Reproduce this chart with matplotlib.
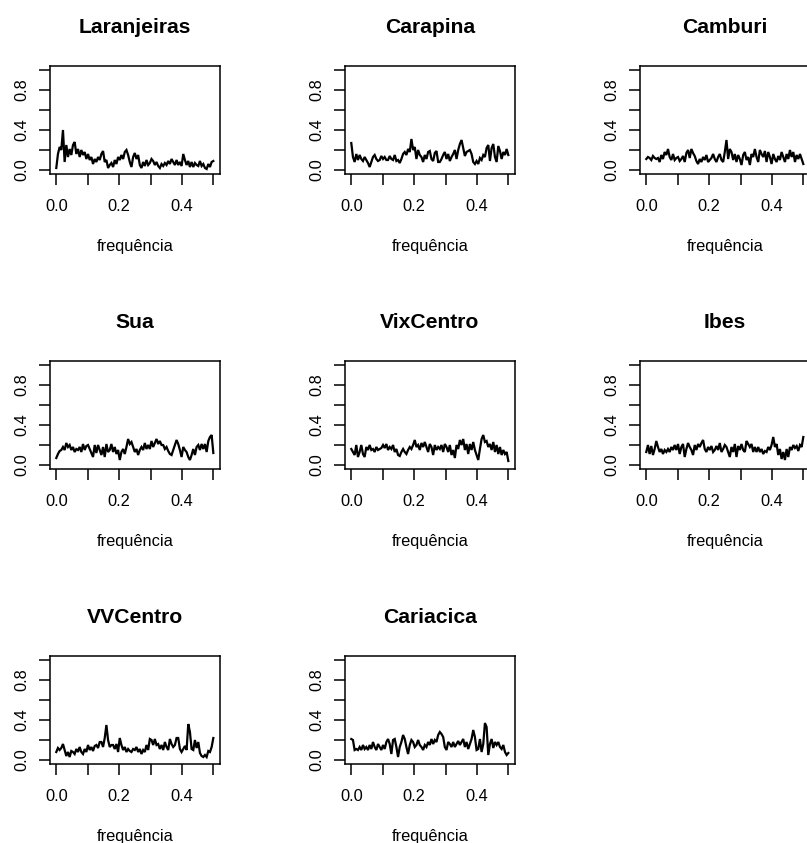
import numpy as np
import matplotlib
matplotlib.use("Agg")
import matplotlib.pyplot as plt

plt.rcParams['font.family'] = ['Liberation Sans', 'DejaVu Sans']

stations = ["Laranjeiras", "Carapina", "Camburi", "Sua", "VixCentro", "Ibes", "VVCentro", "Cariacica"]

laranjeiras = [0.02, 0.16, 0.23, 0.20, 0.40, 0.08, 0.25, 0.13, 0.21, 0.15, 0.25, 0.28, 0.16, 0.21, 0.13, 0.20,
               0.15, 0.18, 0.11, 0.16, 0.10, 0.13, 0.06, 0.11, 0.08, 0.13, 0.10, 0.16, 0.19, 0.08, 0.10, 0.02,
               0.05, 0.07, 0.03, 0.10, 0.06, 0.13, 0.10, 0.15, 0.11, 0.18, 0.20, 0.15, 0.08, 0.03, 0.13, 0.17,
               0.11, 0.15, 0.05, 0.02, 0.08, 0.04, 0.10, 0.05, 0.07, 0.11, 0.09, 0.05, 0.08, 0.04, 0.02, 0.06,
               0.04, 0.07, 0.05, 0.09, 0.06, 0.11, 0.08, 0.05, 0.10, 0.05, 0.08, 0.04, 0.16, 0.10, 0.05, 0.09,
               0.03, 0.08, 0.03, 0.07, 0.05, 0.04, 0.09, 0.04, 0.06, 0.02, 0.01, 0.06, 0.03, 0.08, 0.09]
carapina = [0.27, 0.13, 0.08, 0.16, 0.10, 0.15, 0.11, 0.09, 0.13, 0.10, 0.07, 0.03, 0.08, 0.13, 0.15, 0.11,
            0.09, 0.10, 0.14, 0.11, 0.13, 0.10, 0.10, 0.14, 0.11, 0.10, 0.15, 0.09, 0.10, 0.07, 0.11, 0.16,
            0.18, 0.15, 0.21, 0.18, 0.31, 0.20, 0.23, 0.11, 0.20, 0.15, 0.13, 0.08, 0.15, 0.11, 0.18, 0.19,
            0.11, 0.09, 0.17, 0.19, 0.08, 0.08, 0.11, 0.15, 0.18, 0.11, 0.16, 0.09, 0.13, 0.16, 0.20, 0.11,
            0.20, 0.26, 0.30, 0.22, 0.14, 0.18, 0.19, 0.20, 0.16, 0.08, 0.06, 0.09, 0.06, 0.12, 0.10, 0.15,
            0.13, 0.22, 0.25, 0.09, 0.22, 0.26, 0.13, 0.08, 0.24, 0.19, 0.11, 0.18, 0.15, 0.21, 0.15]
camburi = [0.11, 0.13, 0.12, 0.10, 0.14, 0.12, 0.11, 0.12, 0.08, 0.15, 0.11, 0.18, 0.15, 0.21, 0.13, 0.10,
           0.16, 0.10, 0.12, 0.13, 0.09, 0.11, 0.14, 0.08, 0.17, 0.20, 0.12, 0.21, 0.17, 0.14, 0.09, 0.06,
           0.11, 0.08, 0.13, 0.10, 0.15, 0.08, 0.10, 0.12, 0.16, 0.11, 0.08, 0.13, 0.16, 0.10, 0.08, 0.18,
           0.30, 0.11, 0.21, 0.18, 0.10, 0.16, 0.08, 0.15, 0.11, 0.05, 0.15, 0.18, 0.10, 0.13, 0.05, 0.16,
           0.13, 0.21, 0.13, 0.08, 0.20, 0.16, 0.13, 0.19, 0.08, 0.18, 0.13, 0.06, 0.16, 0.11, 0.08, 0.14,
           0.10, 0.18, 0.13, 0.08, 0.16, 0.11, 0.20, 0.13, 0.18, 0.08, 0.15, 0.11, 0.16, 0.11, 0.06]
sua = [0.07, 0.11, 0.14, 0.15, 0.18, 0.15, 0.22, 0.18, 0.20, 0.15, 0.18, 0.13, 0.16, 0.15, 0.18, 0.13,
       0.21, 0.15, 0.19, 0.20, 0.16, 0.12, 0.08, 0.20, 0.12, 0.20, 0.15, 0.10, 0.18, 0.08, 0.21, 0.13,
       0.15, 0.21, 0.13, 0.18, 0.11, 0.15, 0.05, 0.13, 0.16, 0.11, 0.18, 0.26, 0.21, 0.23, 0.18, 0.13,
       0.16, 0.10, 0.15, 0.18, 0.15, 0.22, 0.16, 0.20, 0.16, 0.24, 0.18, 0.22, 0.26, 0.21, 0.24, 0.20,
       0.20, 0.16, 0.18, 0.14, 0.11, 0.10, 0.15, 0.20, 0.25, 0.21, 0.15, 0.08, 0.18, 0.15, 0.13, 0.08,
       0.05, 0.10, 0.16, 0.10, 0.18, 0.20, 0.15, 0.21, 0.16, 0.21, 0.13, 0.24, 0.28, 0.30, 0.12]
vixcentro = [0.16, 0.13, 0.10, 0.20, 0.08, 0.13, 0.20, 0.11, 0.08, 0.18, 0.15, 0.20, 0.15, 0.16, 0.13, 0.18,
             0.15, 0.16, 0.17, 0.20, 0.17, 0.21, 0.15, 0.18, 0.16, 0.20, 0.13, 0.16, 0.10, 0.09, 0.13, 0.16,
             0.13, 0.11, 0.15, 0.18, 0.16, 0.20, 0.25, 0.18, 0.20, 0.15, 0.22, 0.18, 0.23, 0.18, 0.13, 0.21,
             0.18, 0.10, 0.20, 0.15, 0.18, 0.16, 0.20, 0.13, 0.21, 0.18, 0.13, 0.20, 0.10, 0.15, 0.07, 0.20,
             0.16, 0.25, 0.20, 0.26, 0.15, 0.21, 0.11, 0.21, 0.15, 0.23, 0.15, 0.10, 0.05, 0.16, 0.26, 0.30,
             0.23, 0.24, 0.18, 0.21, 0.15, 0.23, 0.13, 0.20, 0.11, 0.18, 0.10, 0.15, 0.11, 0.13, 0.04]
ibes = [0.13, 0.20, 0.11, 0.19, 0.10, 0.16, 0.24, 0.18, 0.13, 0.16, 0.11, 0.15, 0.13, 0.16, 0.13, 0.18,
        0.15, 0.20, 0.15, 0.21, 0.11, 0.18, 0.21, 0.08, 0.16, 0.22, 0.18, 0.15, 0.10, 0.20, 0.15, 0.21,
        0.18, 0.22, 0.25, 0.16, 0.13, 0.18, 0.15, 0.19, 0.13, 0.15, 0.19, 0.15, 0.22, 0.13, 0.16, 0.20,
        0.18, 0.13, 0.08, 0.18, 0.13, 0.21, 0.08, 0.19, 0.15, 0.21, 0.15, 0.13, 0.24, 0.21, 0.18, 0.21,
        0.13, 0.18, 0.13, 0.18, 0.13, 0.16, 0.11, 0.14, 0.13, 0.18, 0.15, 0.20, 0.28, 0.18, 0.21, 0.10,
        0.16, 0.06, 0.13, 0.05, 0.16, 0.08, 0.18, 0.15, 0.20, 0.17, 0.19, 0.14, 0.20, 0.18, 0.28]
vvcentro = [0.08, 0.12, 0.10, 0.12, 0.16, 0.10, 0.04, 0.08, 0.03, 0.09, 0.08, 0.06, 0.11, 0.08, 0.13, 0.08,
            0.06, 0.11, 0.08, 0.15, 0.10, 0.13, 0.09, 0.14, 0.15, 0.12, 0.18, 0.18, 0.13, 0.22, 0.35, 0.20,
            0.13, 0.15, 0.15, 0.11, 0.16, 0.08, 0.22, 0.15, 0.10, 0.13, 0.08, 0.11, 0.09, 0.08, 0.11, 0.10,
            0.13, 0.08, 0.11, 0.06, 0.10, 0.08, 0.15, 0.10, 0.21, 0.20, 0.15, 0.21, 0.15, 0.16, 0.11, 0.15,
            0.10, 0.18, 0.13, 0.10, 0.21, 0.16, 0.13, 0.15, 0.22, 0.22, 0.11, 0.08, 0.11, 0.14, 0.10, 0.36,
            0.28, 0.11, 0.10, 0.20, 0.12, 0.18, 0.07, 0.04, 0.03, 0.05, 0.03, 0.09, 0.08, 0.13, 0.22]
cariacica = [0.21, 0.20, 0.10, 0.11, 0.10, 0.13, 0.10, 0.15, 0.11, 0.13, 0.10, 0.15, 0.11, 0.18, 0.13, 0.10,
             0.16, 0.13, 0.10, 0.15, 0.11, 0.18, 0.21, 0.16, 0.06, 0.20, 0.21, 0.13, 0.03, 0.13, 0.18, 0.25,
             0.21, 0.13, 0.06, 0.15, 0.20, 0.18, 0.13, 0.15, 0.20, 0.15, 0.13, 0.10, 0.15, 0.13, 0.18, 0.15,
             0.21, 0.16, 0.20, 0.18, 0.25, 0.28, 0.26, 0.23, 0.13, 0.10, 0.18, 0.16, 0.13, 0.18, 0.13, 0.16,
             0.19, 0.15, 0.18, 0.21, 0.13, 0.18, 0.11, 0.16, 0.21, 0.30, 0.23, 0.10, 0.11, 0.21, 0.08, 0.16,
             0.37, 0.33, 0.05, 0.16, 0.21, 0.12, 0.18, 0.15, 0.18, 0.13, 0.11, 0.15, 0.08, 0.05, 0.07]

series = [laranjeiras, carapina, camburi, sua, vixcentro, ibes, vvcentro, cariacica]
freq_max = 0.5

x_ticks = [0.0, 0.1, 0.2, 0.3, 0.4, 0.5]
x_labels = ["0.0", "", "0.2", "", "0.4", ""]
y_ticks = [0.0, 0.2, 0.4, 0.6, 0.8, 1.0]
y_labels = ["0.0", "", "0.4", "", "0.8", ""]
x_title = "frequência"

W, H = 807, 843
fig = plt.figure(figsize=(W / 100, H / 100), dpi=100)
fig.patch.set_facecolor("white")

cell = 295.0
box_l, box_t, box_w, box_h = 50.0, 66.0, 169.6, 108.0
tick_len = 7.7  # points
fs = 11.8

for i, (name, vals) in enumerate(zip(stations, series)):
    r, c = divmod(i, 3)
    left = (box_l + cell * c) / W
    bottom = 1 - (box_t + cell * r + box_h) / H
    ax = fig.add_axes([left, bottom, box_w / W, box_h / H])
    freq = np.linspace(0, freq_max, len(vals))
    ax.plot(freq, vals, color="black", lw=1.6, solid_joinstyle="miter")
    ax.set_xlim(-0.02, 0.52)
    ax.set_ylim(-0.04, 1.04)
    ax.set_xticks(x_ticks)
    ax.set_xticklabels(x_labels)
    ax.set_yticks(y_ticks)
    ax.set_yticklabels(y_labels)
    ax.tick_params(axis="both", direction="out", length=tick_len, width=1.1,
                   labelsize=fs, colors="black")
    ax.tick_params(axis="x", pad=10.0)
    ax.tick_params(axis="y", pad=7.3)
    for lab in ax.get_yticklabels():
        lab.set_rotation(90)
        lab.set_va("center")
    for sp in ax.spines.values():
        sp.set_linewidth(1.1)
    ax.text(0.5, 1 + 33.0 / box_h, name, transform=ax.transAxes, ha="center",
            va="baseline", fontsize=15.2, fontweight="bold")
    ax.text(0.5, -77.0 / box_h, x_title, transform=ax.transAxes, ha="center",
            va="baseline", fontsize=fs)

fig.savefig("out.png", dpi=100, facecolor="white")
